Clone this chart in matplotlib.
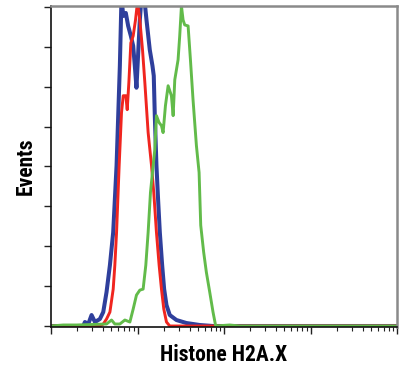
import numpy as np
import matplotlib.pyplot as plt
from matplotlib import font_manager

# log10 intensity positions and event counts
blue_x = [0.0, 0.373, 0.392, 0.431, 0.469, 0.508, 0.565, 0.604, 0.642, 0.681, 0.719,
          0.758, 0.777, 0.796, 0.815, 0.835, 0.865, 0.892, 0.923, 0.950, 0.969, 0.988,
          1.008, 1.027, 1.046, 1.077, 1.104, 1.142, 1.173, 1.188, 1.200, 1.219, 1.238,
          1.258, 1.285, 1.308, 1.335, 1.373, 1.450, 1.565, 1.719, 1.873, 4.0]
blue_y = [0, 0, 4, 2, 11, 4, 7, 14, 34, 61, 94,
          161, 211, 261, 330, 311, 314, 301, 291, 281, 261, 239,
          274, 307, 330, 330, 307, 277, 261, 251, 211, 161, 127,
          94, 61, 37, 21, 11, 6, 3, 1, 0, 0]

red_x = [0.0, 0.565, 0.604, 0.642, 0.681, 0.719, 0.738, 0.758, 0.788, 0.815, 0.835,
         0.865, 0.881, 0.900, 0.923, 0.950, 0.977, 1.000, 1.027, 1.058, 1.085, 1.123,
         1.162, 1.188, 1.219, 1.250, 1.277, 1.304, 1.335, 1.373, 4.0]
red_y = [0, 0, 2, 7, 14, 37, 61, 94, 161, 214, 231,
         231, 217, 244, 284, 291, 307, 325, 307, 277, 244, 194,
         161, 134, 94, 61, 37, 17, 4, 0, 0]

green_x = [0.0, 0.142, 0.296, 0.642, 0.700, 0.738, 0.796, 0.854, 0.912, 0.950, 0.988,
           1.027, 1.065, 1.096, 1.123, 1.150, 1.173, 1.200, 1.219, 1.250, 1.277, 1.296,
           1.323, 1.354, 1.392, 1.412, 1.431, 1.469, 1.488, 1.508, 1.527, 1.546, 1.585,
           1.612, 1.642, 1.681, 1.712, 1.731, 1.765, 1.796, 1.835, 1.873, 1.904, 2.065,
           2.181, 4.0]
green_y = [0, 1, 1, 2, 6, 2, 2, 6, 4, 17, 31,
           36, 37, 61, 94, 134, 154, 177, 211, 204, 201, 194,
           221, 241, 231, 211, 247, 267, 291, 321, 307, 302, 301,
           267, 227, 181, 154, 101, 74, 54, 34, 14, 0, 1,
           0, 0]

# bold condensed grotesque for the axis labels, best match first
preferred = ["robotocondensed-bold.ttf", "pragatinarrow-bold.ttf", "ptsansnarrow-bold.ttf",
             "pt_sans-narrow-web-bold.ttf", "liberationsansnarrow-bold.ttf",
             "asapcondensed-bold.ttf", "barlowsemicondensed-bold.ttf"]
files = {f.fname.split("/")[-1].lower(): f.fname for f in font_manager.fontManager.ttflist}
label_font = None
for key in preferred:
    if key in files:
        label_font = font_manager.FontProperties(fname=files[key], size=15.5)
        break
if label_font is None:
    label_font = font_manager.FontProperties(family=["Liberation Sans", "DejaVu Sans"],
                                             weight="bold", size=13)

fig = plt.figure(figsize=(4.05, 3.67), dpi=100)
ax = fig.add_axes([51 / 405, 1 - 327 / 367, 346 / 405, 321 / 367])

ax.plot(10 ** np.array(blue_x), blue_y, color="#2f3f9c", lw=2.9)
ax.plot(10 ** np.array(red_x), red_y, color="#f0251f", lw=2.1)
ax.plot(10 ** np.array(green_x), green_y, color="#62bb4a", lw=2.1)

ax.set_xscale("log")
ax.set_xlim(1, 1e4)
ax.set_ylim(-1, 321)
ax.set_yticks(np.arange(0, 321, 40))
ax.tick_params(axis="both", which="both", labelleft=False, labelbottom=False,
               direction="out", color="#222222")
ax.tick_params(axis="both", which="major", length=5, width=1)
ax.tick_params(axis="x", which="minor", length=3, width=0.8)

for side in ("left", "bottom"):
    ax.spines[side].set_color("#111111")
    ax.spines[side].set_linewidth(1.2)
for side in ("top", "right"):
    ax.spines[side].set_color("#8a8a8a")
    ax.spines[side].set_linewidth(1.8)

ax.set_xlabel("Histone H2A.X", fontproperties=label_font, labelpad=7)
ax.set_ylabel("Events", fontproperties=label_font, labelpad=5)

fig.savefig("out.png", dpi=100)
